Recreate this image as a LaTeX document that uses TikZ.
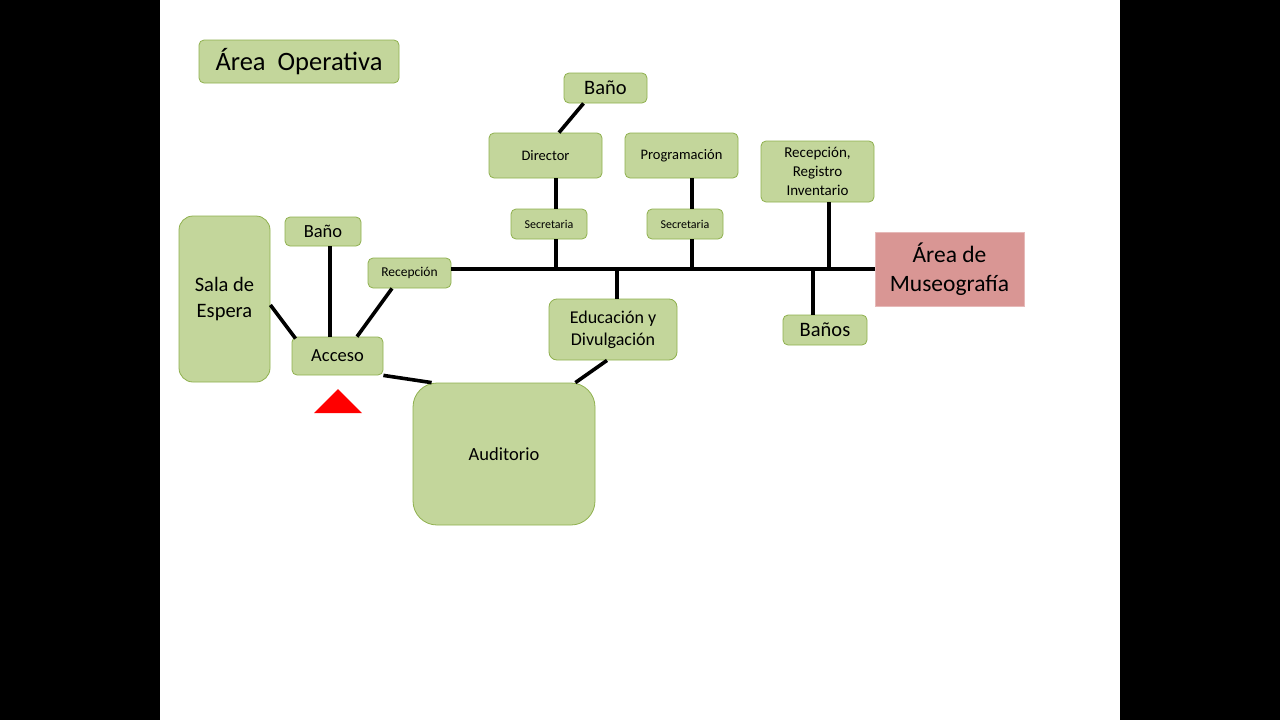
\documentclass[tikz,border=0pt]{standalone}
\usepackage{fontspec}
\setmainfont{Carlito}
\usepackage{xcolor}
\usepackage{tikz}
\usetikzlibrary{positioning}

\definecolor{boxgreen}{HTML}{C3D69B}
\definecolor{edgegreen}{HTML}{8FB04E}
\definecolor{museopink}{HTML}{D99694}
\definecolor{museoedge}{HTML}{E6B9B8}

\begin{document}
\begin{tikzpicture}[
    x=1pt, y=-1pt,
    room/.style={draw=edgegreen, line width=0.8pt, fill=boxgreen, align=center,
                 inner sep=0pt, rounded corners=5pt},
    bigroom/.style={room, rounded corners=14pt},
    link/.style={line width=3.6pt, black},
    fbig/.style={font=\fontsize{20.5}{26}\selectfont},
    fmid/.style={font=\fontsize{14.5}{19}\selectfont},
    fsmall/.style={font=\fontsize{12}{14}\selectfont}
]
\useasboundingbox (0,0) rectangle (1280,720);
\fill[black] (0,0) rectangle (160,720);
\fill[black] (1120,0) rectangle (1280,720);

% title
\node[room, minimum width=200pt, minimum height=43pt, font=\fontsize{26.5}{30}\selectfont]
    (operativa) at (299, 61.5) {Área\ \ Operativa};

% upper rooms
\node[room, fbig, minimum width=83pt, minimum height=30pt] (banoDir) at (605.5, 88) {Baño};
\node[room, fmid, minimum width=113pt, minimum height=45pt] (director) at (545.5, 155.5) {Director};
\node[room, fmid, minimum width=113pt, minimum height=45pt] (program) at (681.5, 155.5) {Programación};
\node[room, fmid, minimum width=113pt, minimum height=61pt, font=\fontsize{15}{19}\selectfont]
    (registro) at (817.5, 171.5) {Recepción,\\Registro\\Inventario};
\node[room, fsmall, minimum width=76pt, minimum height=30pt] (secDir) at (549, 224) {Secretaria};
\node[room, fsmall, minimum width=76pt, minimum height=30pt] (secProg) at (685, 224) {Secretaria};

% left rooms
\node[bigroom, fbig, minimum width=91pt, minimum height=166pt] (sala) at (224.5, 299) {Sala de\\Espera};
\node[room, font=\fontsize{18.5}{22}\selectfont, minimum width=76pt, minimum height=29pt]
    (banoAcc) at (323, 231.5) {Baño};
\node[room, font=\fontsize{13.5}{16}\selectfont, minimum width=83pt, minimum height=30pt]
    (recep) at (409.5, 273) {Recepción};
\node[room, font=\fontsize{18.5}{22}\selectfont, minimum width=91pt, minimum height=38pt]
    (acceso) at (337.5, 356) {Acceso};

% lower rooms
\node[room, rounded corners=8pt, font=\fontsize{18}{22}\selectfont, minimum width=128pt, minimum height=61pt]
    (educ) at (613, 329.5) {Educación y\\Divulgación};
\node[room, fbig, minimum width=84pt, minimum height=30pt] (banos) at (825, 330) {Baños};
\node[room, rounded corners=24pt, font=\fontsize{18.5}{22}\selectfont, minimum width=182pt, minimum height=142pt]
    (audit) at (504, 454) {Auditorio};

% museografia
\node[draw=museoedge, fill=museopink, line width=0.8pt, align=center, inner sep=0pt,
      minimum width=149pt, minimum height=74pt, font=\fontsize{23.5}{29}\selectfont]
    (museo) at (949.5, 269) {Área de\\Museografía};

% entrance marker
\fill[red] (314,413) -- (362,413) -- (338,389) -- cycle;

% junctions on the corridor
\coordinate (jDir)  at (556, 268);
\coordinate (jEduc) at (617, 268);
\coordinate (jProg) at (692, 268);
\coordinate (jBan)  at (813, 268);
\coordinate (jReg)  at (829, 268);

% corridor
\draw[link] (recep.east |- museo.west) -- (museo.west);

% Director branch
\draw[link] ([xshift=-22pt]banoDir.south) -- ([xshift=13.5pt]director.north);
\draw[link] (director.south -| jDir) -- (secDir.north -| jDir);
\draw[link] (secDir.south -| jDir) -- (jDir);

% Programacion branch
\draw[link] (program.south -| jProg) -- (secProg.north -| jProg);
\draw[link] (secProg.south -| jProg) -- (jProg);

% Registro / Banos / Educacion
\draw[link] (registro.south -| jReg) -- (jReg);
\draw[link] (jBan) -- (banos.north -| jBan);
\draw[link] (jEduc) -- (educ.north -| jEduc);

% Acceso
\draw[link] ([xshift=7pt]banoAcc.south) -- ([xshift=-7.5pt]acceso.north);
\draw[link] ([xshift=-17.5pt]recep.south) -- ([xshift=19.5pt]acceso.north);
\draw[link] ([yshift=-6pt]sala.east) -- ([xshift=4pt,yshift=-2pt]acceso.north west);
\draw[link] (acceso.south east) -- ([xshift=19pt]audit.north west);
\draw[link] ([xshift=-6pt]educ.south) -- ([xshift=-20pt]audit.north east);

\end{tikzpicture}
\end{document}
